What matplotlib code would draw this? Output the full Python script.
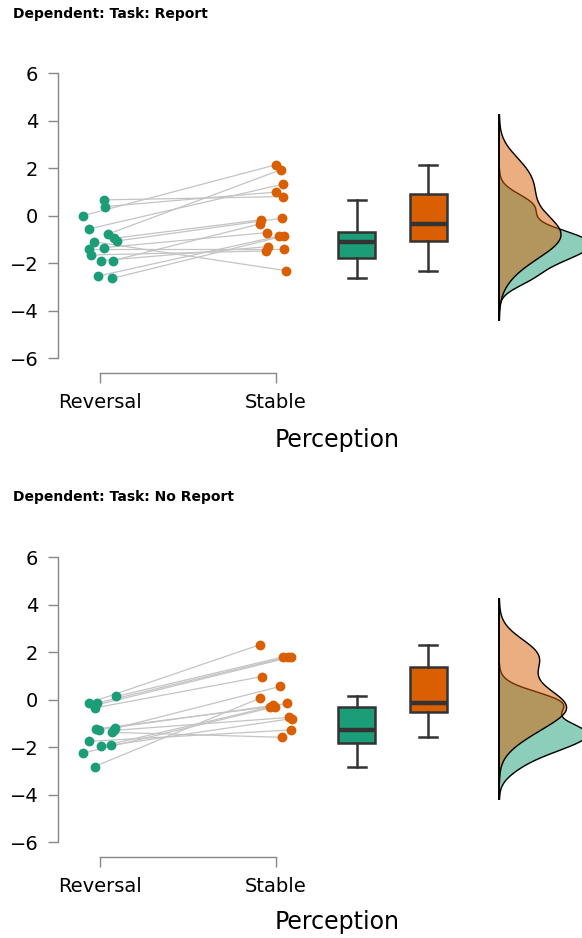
import numpy as np
import matplotlib
matplotlib.use("Agg")
from matplotlib import pyplot as plt

plt.rcParams['font.family'] = ['DejaVu Sans']

categories = ["Reversal", "Stable"]
panel_titles = ["Dependent: Task: Report", "Dependent: Task: No Report"]
xlabel = "Perception"
yticks = [-6, -4, -2, 0, 2, 4, 6]

green = "#1b9e77"
orange = "#d95f02"

# Task: Report (one row per subject)
report_reversal = [0.00, -0.79, 0.66, 0.38, -0.56, -0.96, -1.07, -1.10, -1.35, -1.42, -1.66, -1.90, -1.90, -2.55, -2.65]
report_stable = [2.14, 1.93, 0.80, 0.99, 1.32, -0.18, -0.11, -2.32, -0.72, -1.42, -1.49, -1.31, -0.35, -0.86, -0.86]
report_jit_rev = [-0.095, 0.042, 0.023, 0.027, -0.063, 0.076, 0.095, -0.038, 0.023, -0.066, -0.051, 0.006, 0.070, -0.013, 0.066]
report_jit_sta = [0.000, 0.028, 0.038, 0.000, 0.038, -0.087, 0.034, 0.057, -0.053, 0.047, -0.057, -0.047, -0.091, 0.019, 0.045]

# Task: No Report
noreport_reversal = [-0.15, 0.13, -0.15, -0.25, -0.35, -1.21, -1.24, -1.27, -1.30, -1.38, -1.76, -1.92, -1.97, -2.25, -2.82]
noreport_stable = [2.31, 1.79, 1.79, 1.79, 0.97, 0.55, -0.30, -0.25, -0.75, -1.59, -1.28, -0.80, -0.15, -0.30, 0.06]
noreport_jit_rev = [-0.066, 0.089, -0.019, -0.032, -0.028, 0.085, -0.025, -0.006, 0.076, 0.066, -0.066, 0.063, 0.006, -0.095, -0.032]
noreport_jit_sta = [-0.091, 0.038, 0.066, 0.085, -0.078, 0.023, -0.034, -0.019, 0.076, 0.036, 0.085, 0.091, 0.061, -0.006, -0.091]


def kde_r(data, cut=3, n=512):
    # gaussian density like R's density() with bw.nrd0
    d = np.asarray(data)
    iqr = np.subtract(*np.percentile(d, [75, 25]))
    lo = min(d.std(ddof=1), iqr / 1.34)
    bw = 0.9 * lo * len(d) ** (-0.2)
    grid = np.linspace(d.min() - cut * bw, d.max() + cut * bw, n)
    dens = np.exp(-0.5 * ((grid[:, None] - d[None, :]) / bw) ** 2).sum(axis=1)
    dens /= len(d) * bw * np.sqrt(2 * np.pi)
    return grid, dens


fig = plt.figure(figsize=(5.82, 9.38), dpi=100)

panels = [
    (report_reversal, report_stable, report_jit_rev, report_jit_sta),
    (noreport_reversal, noreport_stable, noreport_jit_rev, noreport_jit_sta),
]
ax_bottoms = [0.6183, 0.1023]
title_y = [1 - 14 / 938, 1 - 497 / 938]
xlabel_y = [1 - 440 / 938, 1 - 922 / 938]

box_pos = [1.46, 1.865]
dens_base = 2.27
dens_scale = 1.25

for k, (rev, sta, jr, js) in enumerate(panels):
    ax = fig.add_axes([58 / 582, ax_bottoms[k], 1 - 58 / 582, 0.3038])
    ax.set_xlim(-0.24, 2.74)
    ax.set_ylim(-6, 6)

    xr = 0 + np.array(jr)
    xs = 1 + np.array(js)
    for i in range(len(rev)):
        ax.plot([xr[i], xs[i]], [rev[i], sta[i]], color="#c4c4c4", lw=0.9, zorder=1)
    ax.scatter(xr, rev, s=50, color=green, zorder=3, linewidths=0)
    ax.scatter(xs, sta, s=50, color=orange, zorder=3, linewidths=0)

    # boxes
    bp = ax.boxplot([rev, sta], positions=box_pos, widths=0.21, patch_artist=True,
                    whis=(0, 100), manage_ticks=False,
                    medianprops=dict(color="#333333", lw=3.2),
                    whiskerprops=dict(color="#333333", lw=1.8),
                    capprops=dict(color="#333333", lw=1.8),
                    boxprops=dict(edgecolor="#333333", lw=1.8))
    for patch, c in zip(bp["boxes"], [green, orange]):
        patch.set_facecolor(c)
    for cap in bp["caps"]:
        xd = cap.get_xdata()
        mid = xd.mean()
        cap.set_xdata([mid - 0.05, mid + 0.05])

    # densities
    ymin, ymax = 0, 0
    for data, c in [(rev, green), (sta, orange)]:
        g, d = kde_r(data)
        ax.fill_betweenx(g, dens_base, dens_base + dens_scale * d, color=c, alpha=0.5,
                         lw=0, zorder=2)
        ax.plot(dens_base + dens_scale * d, g, color="black", lw=1.0, zorder=2)
        ymin, ymax = min(ymin, g.min()), max(ymax, g.max())
    ax.plot([dens_base, dens_base], [ymin, ymax], color="black", lw=1.4, zorder=4)

    ax.set_yticks(yticks)
    ax.set_yticklabels([str(t).replace("-", "\u2212") for t in yticks])
    ax.set_xticks([0, 1])
    ax.set_xticklabels(categories)
    for s in ["top", "right"]:
        ax.spines[s].set_visible(False)
    ax.spines["left"].set_bounds(-6, 6)
    ax.spines["bottom"].set_bounds(0, 1)
    ax.spines["bottom"].set_position(("outward", 10.8))
    for s in ["left", "bottom"]:
        ax.spines[s].set_color("#888888")
        ax.spines[s].set_linewidth(1.0)
    ax.tick_params(axis="both", length=7.2, width=1.0, color="#888888",
                   labelsize=14, pad=7, labelcolor="black")

    fig.text(13 / 582, title_y[k], panel_titles[k], fontsize=10, fontweight="bold", va="center")
    fig.text(337 / 582, xlabel_y[k], xlabel, fontsize=17, ha="center", va="center")

fig.savefig("out.png", dpi=100)
